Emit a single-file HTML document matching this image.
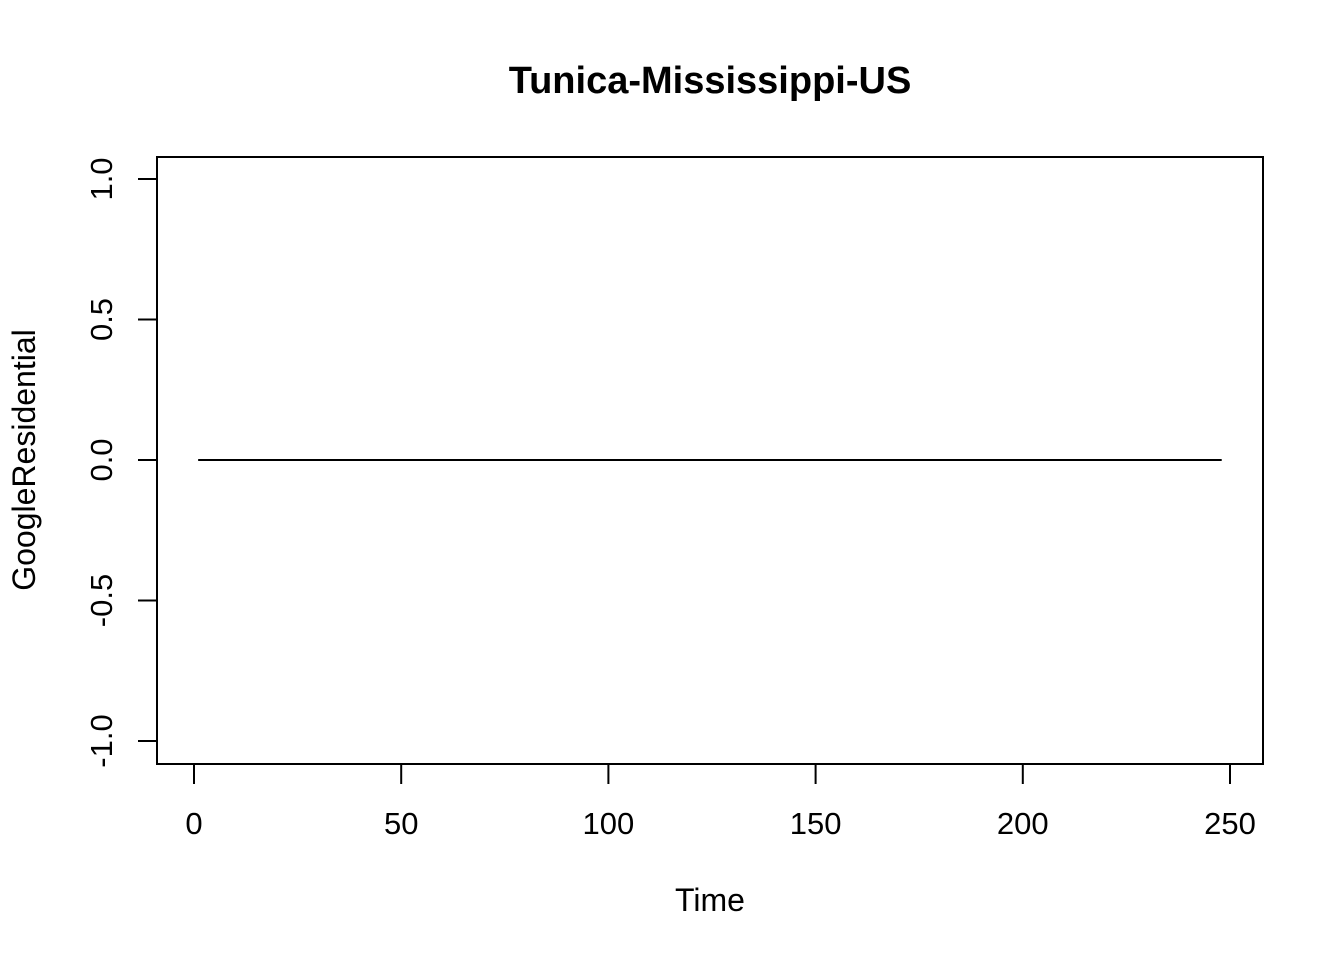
<!DOCTYPE html>
<html><head><meta charset="utf-8"><style>html,body{margin:0;padding:0;background:#fff}svg{display:block}text{font-family:"Liberation Sans",Arial,sans-serif;fill:#000}</style></head>
<body>
<svg id="chart" width="1344" height="960" viewBox="0 0 1344 960" xmlns="http://www.w3.org/2000/svg">
<text x="710" y="93" text-anchor="middle" font-size="38" font-weight="bold">Tunica-Mississippi-US</text>
<rect x="157" y="157" width="1106" height="607" fill="none" stroke="#000" stroke-width="2"/>
<g id="xaxis"></g>
<g id="yaxis"></g>
<g id="series"></g>
<text x="710" y="911" text-anchor="middle" font-size="32">Time</text>
<text transform="translate(35,460) rotate(-90)" text-anchor="middle" font-size="32">GoogleResidential</text>
</svg>
<script>
const xTicks=[0,50,100,150,200,250];
const yTicks=[-1.0,-0.5,0.0,0.5,1.0];
const yTickLabels=["-1.0","-0.5","0.0","0.5","1.0"];
const times=[];for(let t=1;t<=248;t++)times.push(t);
const values=times.map(()=>0);
const NS="http://www.w3.org/2000/svg";
const sx=v=>194+v*(1230-194)/250;
const sy=v=>460-v*(460-179);
function mk(tag,attrs,parent){const e=document.createElementNS(NS,tag);for(const k in attrs)e.setAttribute(k,attrs[k]);parent.appendChild(e);return e;}
const xa=document.getElementById('xaxis'),ya=document.getElementById('yaxis'),sg=document.getElementById('series');
const xl=mk('line',{x1:sx(xTicks[0]),x2:sx(xTicks[xTicks.length-1]),y1:764,y2:764,stroke:'#000','stroke-width':2},xa);


xTicks.forEach(v=>{
 const t=mk('line',{x1:sx(v),x2:sx(v),y1:764,y2:784,stroke:'#000','stroke-width':2},xa);
 
 
 const l=mk('text',{x:sx(v),y:834,'text-anchor':'middle','font-size':31},xa);l.textContent=String(v);
 
 
});
const yl=mk('line',{x1:157,x2:157,y1:sy(yTicks[0]),y2:sy(yTicks[yTicks.length-1]),stroke:'#000','stroke-width':2},ya);


yTicks.forEach((v,i)=>{
 const t=mk('line',{x1:138,x2:157,y1:sy(v),y2:sy(v),stroke:'#000','stroke-width':2},ya);
 
 
 const l=mk('text',{transform:`translate(112,${sy(v)}) rotate(-90)`,'text-anchor':'middle','font-size':31},ya);l.textContent=yTickLabels[i];
 
 
});
const p=mk('polyline',{points:times.map((t,i)=>sx(t)+','+sy(values[i])).join(' '),fill:'none',stroke:'#000','stroke-width':2},sg);


</script>
</body></html>
